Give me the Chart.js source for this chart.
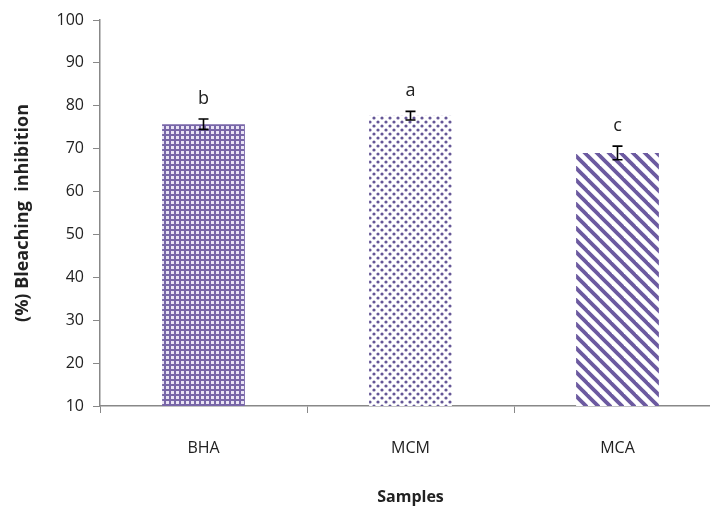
<!DOCTYPE html>
<html>
<head>
<meta charset="utf-8">
<script src="https://cdn.jsdelivr.net/npm/chart.js@4/dist/chart.umd.min.js"></script>
<style>
    html, body { margin: 0; padding: 0; background: #fff; overflow: hidden; }
    #wrap { width: 722px; height: 511px; }
</style>
</head>
<body>
<div id="wrap"><canvas id="bleach-chart"></canvas></div>
<script>
    const samples = ['BHA', 'MCM', 'MCA'];
    const inhibition = [75.7, 77.7, 69.0];
    const errors = [1.2, 1.0, 1.6];
    const groupLetters = ['b', 'a', 'c'];
    const yTicks = [10, 20, 30, 40, 50, 60, 70, 80, 90, 100];

    const purple = 'rgb(108, 90, 160)';
    const fontName = '"Open Sans", sans-serif';

    function makePattern(kind)
    {
        const c = document.createElement('canvas');
        const g = c.getContext('2d');
        if ( kind === 'check' ) {
            c.width = 5; c.height = 5;
            g.fillStyle = 'rgb(120, 102, 168)';
            g.fillRect(0, 0, 5, 5);
            g.fillStyle = 'rgb(232, 226, 244)';
            g.fillRect(1, 1, 3, 3);
        } else if ( kind === 'dots' ) {
            c.width = 8; c.height = 8;
            g.fillStyle = '#fff';
            g.fillRect(0, 0, 8, 8);
            g.fillStyle = 'rgb(100, 86, 150)';
            g.beginPath(); g.arc(2, 2, 1.6, 0, Math.PI * 2); g.fill();
            g.beginPath(); g.arc(6, 6, 1.6, 0, Math.PI * 2); g.fill();
        } else {
            c.width = 12; c.height = 12;
            g.fillStyle = '#fff';
            g.fillRect(0, 0, 12, 12);
            g.strokeStyle = purple;
            g.lineWidth = 3.8;
            for ( let k = -12; k <= 12; k += 12 ) {
                g.beginPath();
                g.moveTo(k - 2, -2);
                g.lineTo(k + 14, 14);
                g.stroke();
            }
        }
        return document.createElement('canvas').getContext('2d').createPattern(c, 'repeat');
    }

    const errorBars = {
        id: 'errorBars',
        afterDatasetsDraw(chart) {
            const { ctx, scales: { x, y } } = chart;
            ctx.save();
            ctx.strokeStyle = '#000';
            ctx.lineWidth = 1.6;
            ctx.fillStyle = '#222';
            ctx.font = '18px ' + fontName;
            ctx.textAlign = 'center';
            ctx.textBaseline = 'middle';
            inhibition.forEach((v, i) => {
                const cx = x.getPixelForValue(i);
                const top = y.getPixelForValue(v + errors[i]);
                const bot = y.getPixelForValue(v - errors[i]);
                ctx.beginPath();
                ctx.moveTo(cx, top); ctx.lineTo(cx, bot);
                ctx.moveTo(cx - 5, top); ctx.lineTo(cx + 5, top);
                ctx.moveTo(cx - 5, bot); ctx.lineTo(cx + 5, bot);
                ctx.stroke();
                ctx.fillText(groupLetters[i], cx, top - 20);
            });
            ctx.restore();
        }
    };

    document.addEventListener("DOMContentLoaded", () => {
        const ctx = document.getElementById('bleach-chart');

        new Chart(ctx, {
            type: 'bar',
            data: {
                labels: samples,
                datasets: [{
                    data: inhibition,
                    backgroundColor: [makePattern('check'), makePattern('dots'), makePattern('stripes')],
                    borderWidth: 0,
                    categoryPercentage: 1,
                    barPercentage: 0.4
                }]
            },
            options: {
                responsive: true,
                maintainAspectRatio: false,
                animation: false,
                layout: { padding: { top: 20, right: 1, left: 0, bottom: 0 } },
                plugins: {
                    legend: { display: false },
                    tooltip: { enabled: false }
                },
                scales: {
                    x: {
                        grid: {
                            offset: true,
                            drawOnChartArea: false,
                            tickLength: 7,
                            color: '#888'
                        },
                        border: { color: '#888', width: 1.5 },
                        ticks: {
                            color: '#222',
                            font: { family: fontName, size: 16 },
                            padding: 26
                        },
                        title: {
                            display: true,
                            text: 'Samples',
                            color: '#222',
                            font: { family: fontName, size: 16, weight: 'bold' },
                            padding: { top: 14 }
                        },
                        afterFit(scale) { scale.height = 105; }
                    },
                    y: {
                        min: 10,
                        max: 100,
                        afterBuildTicks(scale) {
                            scale.ticks = yTicks.map(v => ({ value: v }));
                        },
                        grid: {
                            drawOnChartArea: false,
                            tickLength: 7,
                            color: '#888'
                        },
                        border: { color: '#888', width: 1.5 },
                        ticks: {
                            color: '#222',
                            font: { family: fontName, size: 16 },
                            padding: 9
                        },
                        title: {
                            display: true,
                            text: '(%) Bleaching  inhibition',
                            color: '#222',
                            font: { family: fontName, size: 18, weight: 'bold' },
                            padding: { top: 12, bottom: 4 }
                        },
                        afterFit(scale) { scale.width = 100; }
                    }
                }
            },
            plugins: [errorBars]
        });
    });
</script>
</body>
</html>
